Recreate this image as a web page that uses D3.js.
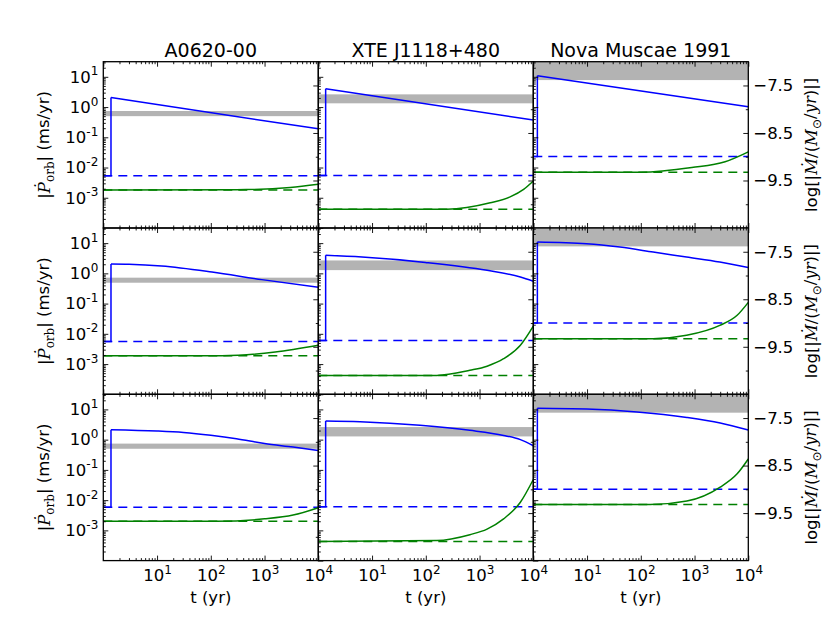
<!DOCTYPE html>
<html>
<head>
<meta charset="utf-8">
<script src="https://cdn.jsdelivr.net/npm/d3@7"></script>
<style>
  body { margin: 0; background: #fff; }
</style>
</head>
<body>
<div id="chart"></div>
<script>
// panel titles (columns)
const systems = ["A0620-00", "XTE J1118+480", "Nova Muscae 1991"];

// tick values / labels
const xMajor = [1, 10, 100, 1000, 10000];
const xLabelled = [10, 100, 1000, 10000];
const yMajor = [1e-4, 1e-3, 1e-2, 1e-1, 1, 10];
const yLabelled = [10, 1, 0.1, 0.01, 0.001];
const rMajor = [-7.5, -8.5, -9.5];
const rMinor = [-8, -9, -10];

// time of the jump, one per column
const jumpT = [1.39, 1.37, 1.19];

// observed band (ms/yr), [row][col]
const bandLo = [[0.50, 1.33, 7.8], [0.49, 1.28, 7.8], [0.50, 1.28, 7.8]];
const bandHi = [[0.74, 2.63, 100], [0.72, 2.67, 100], [0.74, 2.61, 100]];

// dashed levels, [row][col]
const blueFloor = [[5.3e-3, 5.5e-3, 0.0233], [5.6e-3, 6.0e-3, 0.0227], [5.8e-3, 6.0e-3, 0.023]];
const greenFloor = [[1.8e-3, 4.2e-4, 7.0e-3], [1.9e-3, 4.2e-4, 6.9e-3], [2.0e-3, 4.3e-4, 7.1e-3]];

// blue solid after the jump, [row][col]
const blueT = [
  [[1.39, 1e4], [1.37, 1e4], [1.19, 1e4]],
  [[1.39, 3, 12.2, 105, 890, 1e4], [1.37, 6.5, 98, 1380, 5750, 1e4], [1.19, 9.8, 41, 170, 710, 2950, 1e4]],
  [[1.39, 10, 31, 100, 300, 1000, 3400, 1e4], [1.37, 6, 78, 660, 2800, 5750, 1e4], [1.19, 9.8, 85, 720, 3000, 1e4]]
];
const blueV = [
  [[2.06, 0.19], [4.0, 0.37], [10.9, 1.02]],
  [[2.04, 2.0, 1.74, 1.1, 0.62, 0.35], [3.94, 3.46, 2.3, 1.26, 0.76, 0.55], [10.9, 9.6, 7.4, 5.07, 3.45, 2.36, 1.55]],
  [[2.14, 1.93, 1.72, 1.39, 1.07, 0.74, 0.57, 0.44], [4.13, 3.9, 2.98, 2.03, 1.38, 1.0, 0.63], [10.9, 10.3, 8.2, 5.4, 3.56, 2.1]]
];

// green solid, [row][col]
const greenT = [
  [[1, 300, 3000, 1e4], [1, 245, 1580, 3700, 6600, 1e4], [1, 100, 890, 3700, 1e4]],
  [[1, 160, 1580, 1e4], [1, 160, 660, 1380, 2800, 5750, 1e4], [1, 170, 710, 2950, 6200, 1e4]],
  [[1, 126, 1000, 3400, 1e4], [1, 160, 660, 1380, 2800, 5750, 1e4], [1, 150, 720, 3000, 6200, 1e4]]
];
const greenV = [
  [[1.8e-3, 1.85e-3, 2.2e-3, 2.8e-3], [4.2e-4, 4.2e-4, 6.8e-4, 1.07e-3, 1.9e-3, 3.6e-3], [7.0e-3, 7.0e-3, 0.01, 0.0155, 0.033]],
  [[1.9e-3, 1.9e-3, 2.5e-3, 4.2e-3], [4.2e-4, 4.2e-4, 6.2e-4, 8.5e-4, 1.5e-3, 4.2e-3, 0.018], [6.9e-3, 6.9e-3, 8.9e-3, 0.019, 0.041, 0.11]],
  [[2.0e-3, 2.0e-3, 2.4e-3, 3.2e-3, 5.6e-3], [4.3e-4, 4.6e-4, 7.2e-4, 1.1e-3, 2.4e-3, 8.5e-3, 0.048], [7.1e-3, 7.1e-3, 9.3e-3, 0.027, 0.074, 0.23]]
];

const width = 830, height = 623;
const padLeft = 103.3, padTop = 61.7;
const colW = 215, rowH = 166.3;
const fs = 16.5;

const svg = d3.select("#chart")
    .append("svg")
    .attr("width", width)
    .attr("height", height)
    .style("font-family", "DejaVu Sans");

const x = d3.scaleLog().domain([1, 1e4]).range([0, colW]);
const y = d3.scaleLog().domain([1e-4, Math.pow(10, 1.5)]).range([rowH, 0]);
const yR = d3.scaleLinear().domain([-10.5, -7]).range([rowH, 0]);

// minor ticks 2..9 per decade
const xMinor = [];
for (let d = 0; d < 4; d++) for (let k = 2; k <= 9; k++) xMinor.push(k * Math.pow(10, d));
const yMinor = [];
for (let d = -4; d <= 1; d++) for (let k = 2; k <= 9; k++) {
    const v = k * Math.pow(10, d);
    if (v < Math.pow(10, 1.5)) yMinor.push(v);
}

const line = d3.line().x(d => x(d[0])).y(d => y(d[1]));
const smooth = d3.line().x(d => x(d[0])).y(d => y(d[1])).curve(d3.curveMonotoneX);

// write 10^n with a superscript
function powLabels(sel) {
    sel.selectAll("text").each(function(d) {
        const t = d3.select(this);
        const e = Math.round(Math.log10(d));
        t.text("");
        t.append("tspan").text("10");
        t.append("tspan").attr("dy", "-0.6em").attr("font-size", "12px").text(String(e));
    });
}

function styleAxis(g) {
    g.select(".domain").remove();
    g.attr("font-family", "DejaVu Sans").attr("font-size", fs);
    g.selectAll(".tick line").attr("stroke-width", 0.9);
}

for (let r = 0; r < 3; r++) {
    for (let c = 0; c < 3; c++) {
        const g = svg.append("g")
            .attr("transform", `translate(${padLeft + c * colW},${padTop + r * rowH})`);

        const id = `clip-${r}-${c}`;
        g.append("clipPath").attr("id", id)
            .append("rect").attr("width", colW).attr("height", rowH);
        const plot = g.append("g").attr("clip-path", `url(#${id})`);

        // observed band
        plot.append("rect")
            .attr("x", 0)
            .attr("width", colW)
            .attr("y", y(bandHi[r][c]))
            .attr("height", y(bandLo[r][c]) - y(bandHi[r][c]))
            .attr("fill", "#b3b3b3");

        // dashed reference levels
        plot.append("path")
            .attr("d", line([[1, blueFloor[r][c]], [1e4, blueFloor[r][c]]]))
            .attr("fill", "none").attr("stroke", "#0000ff")
            .attr("stroke-width", 1.5).attr("stroke-dasharray", "9,6");
        plot.append("path")
            .attr("d", line([[1, greenFloor[r][c]], [1e4, greenFloor[r][c]]]))
            .attr("fill", "none").attr("stroke", "#008000")
            .attr("stroke-width", 1.5).attr("stroke-dasharray", "9,6");

        // green solid
        const gp = greenT[r][c].map((t, i) => [t, greenV[r][c][i]]);
        plot.append("path")
            .attr("d", smooth(gp))
            .attr("fill", "none").attr("stroke", "#008000").attr("stroke-width", 1.5);

        // blue solid: floor, jump, then decline
        const bp = blueT[r][c].map((t, i) => [t, blueV[r][c][i]]);
        plot.append("path")
            .attr("d", line([[1, blueFloor[r][c]], [jumpT[c], blueFloor[r][c]], bp[0]]))
            .attr("fill", "none").attr("stroke", "#0000ff").attr("stroke-width", 1.5);
        plot.append("path")
            .attr("d", smooth(bp))
            .attr("fill", "none").attr("stroke", "#0000ff").attr("stroke-width", 1.5);

        // left log axis (inward ticks)
        const gl = g.append("g")
            .call(d3.axisLeft(y).tickValues(c === 0 ? yLabelled : yMajor)
                .tickSizeInner(-5).tickSizeOuter(0).tickPadding(5)
                .tickFormat(c === 0 ? d => d : ""));
        styleAxis(gl);
        if (c === 0) powLabels(gl);
        styleAxis(g.append("g")
            .call(d3.axisLeft(y).tickValues(yMinor).tickSize(-2.5).tickFormat("")));

        // right linear axis
        const gr = g.append("g")
            .attr("transform", `translate(${colW},0)`)
            .call(d3.axisRight(yR).tickValues(rMajor)
                .tickSizeInner(-5).tickSizeOuter(0).tickPadding(5)
                .tickFormat(c === 2 ? d3.format(".1f") : ""));
        styleAxis(gr);
        styleAxis(g.append("g")
            .attr("transform", `translate(${colW},0)`)
            .call(d3.axisRight(yR).tickValues(rMinor).tickSize(-2.5).tickFormat("")));

        // bottom and top log axes
        const gb = g.append("g")
            .attr("transform", `translate(0,${rowH})`)
            .call(d3.axisBottom(x).tickValues(r === 2 ? xLabelled : xMajor)
                .tickSizeInner(-5).tickSizeOuter(0).tickPadding(8.5)
                .tickFormat(r === 2 ? d => d : ""));
        styleAxis(gb);
        if (r === 2) powLabels(gb);
        styleAxis(g.append("g")
            .attr("transform", `translate(0,${rowH})`)
            .call(d3.axisBottom(x).tickValues(xMinor).tickSize(-2.5).tickFormat("")));
        styleAxis(g.append("g")
            .call(d3.axisTop(x).tickValues(xMajor).tickSize(-5).tickFormat("")));
        styleAxis(g.append("g")
            .call(d3.axisTop(x).tickValues(xMinor).tickSize(-2.5).tickFormat("")));

        // frame
        g.append("rect")
            .attr("width", colW).attr("height", rowH)
            .attr("fill", "none").attr("stroke", "black").attr("stroke-width", 1.3);
    }
}

// column titles and x labels
systems.forEach((s, c) => {
    svg.append("text")
        .attr("x", padLeft + c * colW + colW / 2)
        .attr("y", 56.7)
        .attr("text-anchor", "middle")
        .style("font-size", "19px")
        .text(s);
    svg.append("text")
        .attr("x", padLeft + c * colW + colW / 2)
        .attr("y", 603)
        .attr("text-anchor", "middle")
        .style("font-size", fs + "px")
        .text("t (yr)");
});

// y labels on each row
for (let r = 0; r < 3; r++) {
    const cy = padTop + r * rowH + rowH / 2;

    const tl = svg.append("text")
        .attr("transform", `translate(50,${cy}) rotate(-90)`)
        .attr("text-anchor", "middle")
        .style("font-size", fs + "px");
    tl.append("tspan").text("|");
    tl.append("tspan").style("font-family", "DejaVu Serif").style("font-style", "italic").text("\u1E56");
    tl.append("tspan").style("font-family", "DejaVu Serif").style("font-size", "12px").attr("dy", "0.3em").text("orb");
    tl.append("tspan").attr("dy", "-0.25em").text("| (ms/yr)");

    const tr = svg.append("text")
        .attr("transform", `translate(817,${cy}) rotate(-90)`)
        .attr("text-anchor", "middle")
        .style("font-size", fs + "px");
    tr.append("tspan").text("log[|");
    tr.append("tspan").style("font-family", "DejaVu Serif").style("font-style", "italic").text("\u1E40");
    tr.append("tspan").text("/(");
    tr.append("tspan").style("font-family", "DejaVu Serif").style("font-style", "italic").text("M");
    tr.append("tspan").style("font-size", "12px").attr("dy", "0.3em").text("\u2299");
    tr.append("tspan").attr("dy", "-0.25em").text("/");
    tr.append("tspan").style("font-family", "DejaVu Serif").style("font-style", "italic").text("yr");
    tr.append("tspan").text(")|]");
}
</script>
</body>
</html>
